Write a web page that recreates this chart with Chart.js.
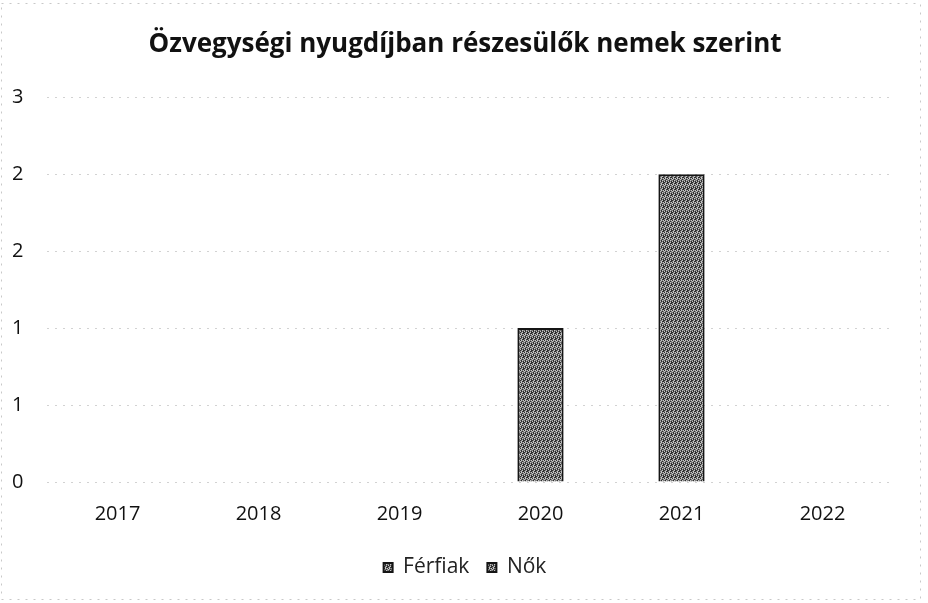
<!DOCTYPE html>
<html><head><meta charset="utf-8">
<script src="https://cdn.jsdelivr.net/npm/chart.js@4/dist/chart.umd.min.js"></script>
<style>html,body{margin:0;padding:0;background:#fff}#wrap{width:928px;height:603px;position:relative}</style>
</head><body><div id="wrap"><canvas id="c" width="928" height="603"></canvas></div>
<script>
const titleText = 'Özvegységi nyugdíjban részesülők nemek szerint';
const categories = ['2017','2018','2019','2020','2021','2022'];
const ferfiak = [0,0,0,0,0,0];
const nok = [0,0,0,1,2,0];
const yTicks = [0,0.5,1,1.5,2,2.5];

const ctx = document.getElementById('c').getContext('2d');
function makePattern(){
  const rows = ['0120','2101','1021','0211','1202','2010'];
  const cols = ['#7c7c7c','#2e2e2e','#c6c6c6'];
  const p = document.createElement('canvas'); p.width=4; p.height=6;
  const g = p.getContext('2d');
  rows.forEach((r,y)=>{ for(let x=0;x<4;x++){ g.fillStyle=cols[+r[x]]; g.fillRect(x,y,1,1);} });
  return ctx.createPattern(p,'repeat');
}
const pat = makePattern();
const frame = {
  id:'frame',
  afterDraw(chart){
    const c = chart.ctx; c.save();
    c.strokeStyle='#c8c8c8'; c.lineWidth=1; c.setLineDash([2,6]);
    c.strokeRect(1.5,3.5,919,596);
    c.restore();
  }
};
new Chart(ctx, {
  type:'bar',
  data:{labels:categories, datasets:[
    {label:'Férfiak', data:ferfiak, backgroundColor:pat, borderColor:'#151515', borderWidth:2, categoryPercentage:0.8, barPercentage:0.41},
    {label:'Nők', data:nok, backgroundColor:pat, borderColor:'#151515', borderWidth:2, categoryPercentage:0.8, barPercentage:0.41}
  ]},
  plugins:[frame],
  options:{
    responsive:false, animation:false,
    layout:{padding:{left:37,right:35,top:10,bottom:15}},
    plugins:{
      title:{display:true,text:titleText,color:'#111',font:{family:'Open Sans',size:26,weight:'bold'},padding:{top:19,bottom:37}},
      legend:{position:'bottom',labels:{color:'#222',font:{family:'Open Sans',size:21},boxWidth:9,boxHeight:9,padding:18}},
      tooltip:{enabled:false}
    },
    scales:{
      x:{stacked:true,grid:{display:false},border:{display:false},
         afterFit:(s)=>{s.height = 57;},
         ticks:{color:'#111',font:{family:'Open Sans',size:20},padding:12}},
      y:{stacked:true,min:0,max:2.5,afterBuildTicks:(s)=>{s.ticks=yTicks.map(v=>({value:v}));},
         afterFit:(s)=>{s.width = 10;},
         grid:{color:'#d2d2d2',lineWidth:1,drawTicks:false},border:{display:false,dash:[2,6]},
         ticks:{color:'#111',font:{family:'Open Sans',size:20},mirror:true,padding:-35,callback:(v)=>String(Math.round(v))}}
    }
  }
});
</script></body></html>
